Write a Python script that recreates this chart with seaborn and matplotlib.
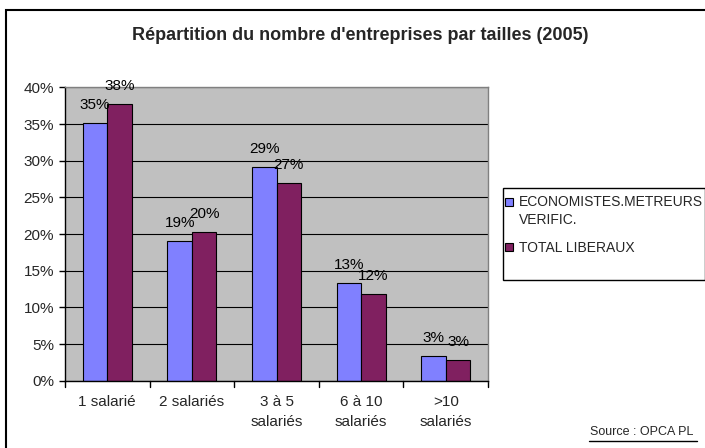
import matplotlib
matplotlib.use("Agg")
import matplotlib.pyplot as plt
import seaborn as sns
import pandas as pd
from matplotlib.patches import Rectangle
from matplotlib.lines import Line2D

categories = ["1 salarié", "2 salariés", "3 à 5\nsalariés", "6 à 10\nsalariés", ">10\nsalariés"]
series_names = ["ECONOMISTES.METREURS\nVERIFIC.", "TOTAL LIBERAUX"]
economistes = [35.2, 19.0, 29.1, 13.3, 3.4]
total_liberaux = [37.8, 20.3, 27.0, 11.8, 2.85]
y_ticks = [0, 5, 10, 15, 20, 25, 30, 35, 40]
title = "Répartition du nombre d'entreprises par tailles (2005)"
source = "Source : OPCA PL"

df = pd.DataFrame({
    "cat": categories * 2,
    "serie": [series_names[0]] * 5 + [series_names[1]] * 5,
    "val": economistes + total_liberaux,
})

sns.set_theme(style="white")
plt.rcParams['font.family'] = ['Liberation Sans', 'DejaVu Sans']

W, H = 705, 448
fig = plt.figure(figsize=(W / 100, H / 100), dpi=100)
fig.patch.set_facecolor("white")

# outer chart border
fig.add_artist(Rectangle((6 / W, -0.1), 1.2, (H - 10) / H + 0.1, transform=fig.transFigure,
                         fill=False, edgecolor="black", linewidth=1.5))

ax = fig.add_axes([65 / W, (H - 380.7) / H, 423 / W, 293.2 / H])
ax.set_facecolor("#C0C0C0")

palette = {series_names[0]: "#8080FF", series_names[1]: "#802060"}
sns.barplot(data=df, x="cat", y="val", hue="serie", order=categories,
            hue_order=series_names, palette=palette, width=0.58,
            edgecolor="black", linewidth=0.8, saturation=1, ax=ax, legend=False)

for c in ax.containers:
    ax.bar_label(c, fmt="%.0f%%", padding=8, fontsize=11, color="black")

ax.set_ylim(0, 40)
ax.set_yticks(y_ticks)
ax.set_yticklabels([f"{v}%" for v in y_ticks], fontsize=11)
ax.set_xlim(-0.5, 4.5)
ax.set_xticks(range(5))
ax.set_xticklabels(categories, fontsize=11, linespacing=1.55)
ax.tick_params(axis="x", length=0, pad=10)
ax.tick_params(axis="y", length=4, width=1, color="black", direction="out", left=True, pad=4)
# category boundary ticks
for b in [-0.5, 0.5, 1.5, 2.5, 3.5, 4.5]:
    ax.plot([b, b], [0, -0.9], color="black", linewidth=1, clip_on=False)

ax.yaxis.grid(True, color="black", linewidth=0.8)
ax.set_axisbelow(True)
ax.set_xlabel("")
ax.set_ylabel("")
for s in ["top", "right"]:
    ax.spines[s].set_color("#808080")
    ax.spines[s].set_linewidth(1)
for s in ["left", "bottom"]:
    ax.spines[s].set_color("black")
    ax.spines[s].set_linewidth(1)

fig.text(360 / W, 1 - 35 / H, title, ha="center", va="center", fontsize=13, fontweight="bold")

# legend box
fig.add_artist(Rectangle((502.5 / W, 1 - 280 / H), (705 - 502.5) / W, 92 / H,
                         transform=fig.transFigure, fill=False, edgecolor="black", linewidth=1))
handles = [Rectangle((0, 0), 1, 1, facecolor=palette[n], edgecolor="black", linewidth=0.8)
           for n in series_names]
leg = fig.legend(handles, series_names, loc="upper left",
                 bbox_to_anchor=(505 / W, 1 - 195 / H), fontsize=10,
                 frameon=False, handlelength=0.55, handleheight=0.55,
                 handletextpad=0.45, borderpad=0, labelspacing=1.0,
                 borderaxespad=0)
for txt in leg.get_texts():
    txt.set_linespacing(1.35)
h0 = leg.legend_handles[0]
h0.set_y(h0.get_y() + 7)

fig.text(642 / W, 1 - 432 / H, source, ha="center", va="center", fontsize=9)
fig.add_artist(Line2D([589 / W, 697 / W], [1 - 440.5 / H, 1 - 440.5 / H], color="black",
                      linewidth=1, transform=fig.transFigure))

fig.savefig("out.png", dpi=100)
